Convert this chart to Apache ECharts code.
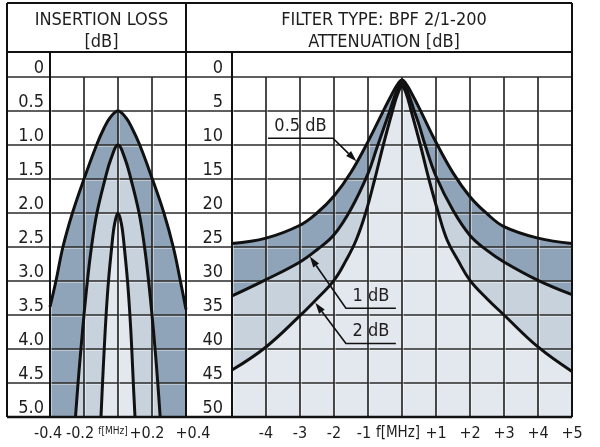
<!DOCTYPE html>
<html>
<head>
<meta charset="utf-8">
<title>BPF 2/1-200</title>
<script src="https://cdn.jsdelivr.net/npm/echarts@6/dist/echarts.min.js"></script>
<style>
  html, body { margin: 0; padding: 0; background: #fff; }
  #chart { width: 600px; height: 447px; }
</style>
</head>
<body>
<div id="chart"></div>
<script>
// ---- data ----
// insertion loss panel: [f MHz, loss dB]
const loss05 = [[-0.4, 3.38], [-0.365, 3.0], [-0.324, 2.5], [-0.268, 2.0], [-0.2, 1.5], [-0.126, 1.0], [-0.082, 0.75],
  [-0.047, 0.6], [0, 0.5], [0.047, 0.6], [0.082, 0.75], [0.128, 1.0], [0.202, 1.5], [0.27, 2.0], [0.325, 2.5],
  [0.367, 3.0], [0.4, 3.42]];
const loss1 = [[-0.25, 5.0], [-0.235, 4.5], [-0.218, 4.0], [-0.2, 3.5], [-0.18, 3.0], [-0.156, 2.5], [-0.124, 2.0],
  [-0.076, 1.5], [-0.041, 1.2], [0, 1.0], [0.041, 1.2], [0.076, 1.5], [0.124, 2.0], [0.156, 2.5], [0.18, 3.0],
  [0.2, 3.5], [0.218, 4.0], [0.234, 4.5], [0.248, 5.0]];
const loss2 = [[-0.1, 5.0], [-0.091, 4.5], [-0.081, 4.0], [-0.07, 3.5], [-0.056, 3.0], [-0.037, 2.5], [-0.026, 2.25],
  [-0.015, 2.1], [0, 2.0], [0.015, 2.1], [0.026, 2.25], [0.037, 2.5], [0.056, 3.0], [0.07, 3.5], [0.081, 4.0],
  [0.09, 4.5], [0.1, 5.0]];

// attenuation panel: [f MHz, attenuation dB]
const att05 = [[-5, 24.5], [-4, 23.7], [-3, 21.8], [-2.5, 20.0], [-2, 17.5], [-1.5, 14.0], [-1, 9.5], [-0.5, 4.5],
  [-0.25, 2.1], [-0.12, 1.0], [0, 0.4], [0.12, 1.0], [0.25, 2.1], [0.5, 4.5], [1, 9.6], [1.5, 14.1], [2, 17.6],
  [2.5, 20.1], [3, 22.0], [4, 23.7], [5, 24.5]];
const att1 = [[-5, 32.2], [-4, 29.8], [-3, 27.2], [-2.5, 25.4], [-2, 23.2], [-1.5, 19.4], [-1, 14.2], [-0.75, 10.6],
  [-0.5, 7.0], [-0.36, 5.0], [-0.2, 2.6], [-0.1, 1.5], [0, 0.9], [0.1, 1.5], [0.2, 2.6], [0.36, 5.0], [0.5, 7.0],
  [0.68, 10.0], [1, 14.6], [1.5, 19.6], [2, 23.3], [2.5, 25.5], [3, 27.2], [4, 29.9], [5, 32.0]];
const att2 = [[-5, 43.1], [-4, 39.7], [-3, 35.1], [-2.5, 32.6], [-2, 29.9], [-1.65, 27.0], [-1.35, 24.0], [-1.07, 20.0],
  [-0.8, 15.0], [-0.55, 10.0], [-0.28, 5.0], [-0.12, 2.4], [0, 1.4], [0.12, 2.4], [0.27, 5.0], [0.54, 10.0],
  [0.79, 15.0], [1.07, 20.0], [1.33, 24.0], [1.65, 27.0], [2, 29.9], [2.5, 32.6], [3, 35.0], [4, 39.7], [5, 43.3]];

// tick labels
const lossXLabels = ['-0.4', '-0.2', 'f[MHz]', '+0.2', '+0.4'];
const lossYLabels = ['0', '0.5', '1.0', '1.5', '2.0', '2.5', '3.0', '3.5', '4.0', '4.5', '5.0'];
const attXLabels = ['', '-4', '-3', '-2', '-1', 'f[MHz]', '+1', '+2', '+3', '+4', '+5'];
const attYLabels = ['0', '5', '10', '15', '20', '25', '30', '35', '40', '45', '50'];

// callouts on the attenuation panel: text, then underline start, underline end, arrow tip
const noteText = ['0.5 dB', '1 dB', '2 dB'];
const notePath = [
  [[-3.94, 9.0], [-2.03, 9.0], [-1.34, 12.4]],
  [[-0.18, 34.0], [-1.65, 34.0], [-2.71, 26.4]],
  [[-0.18, 39.2], [-1.65, 39.2], [-2.55, 33.2]]
];

// ---- look ----
const FONT = "'DejaVu Sans Condensed', 'DejaVu Sans', sans-serif";
const INK = '#1e1e1e';
const RULE = '#2a2a2a';
const DARK = '#8fa4b9', MID = '#c8d2dd', LIGHT = '#e3e8ee';

const frame = { left: 7, right: 572, top: 3, head: 52, plotTop: 77, bottom: 417 };
const lossBox = { left: 50, right: 186 };
const attBox = { left: 232, right: 572 };

// small nudges of the bottom labels, like the hand-set lettering of the original
const lossXStyle = ['l2', 'l4', 's', 'l6', 'r7'];

const chart = echarts.init(document.getElementById('chart'));

function pick(labels, min, step) {
  return v => labels[Math.round((v - min) / step)] || '';
}

function band(data, color, idx) {
  return {
    type: 'line', xAxisIndex: idx, yAxisIndex: idx, data: data,
    smooth: 0.4, symbol: 'none', silent: true, clip: true,
    lineStyle: { width: 0 },
    areaStyle: { color: color, opacity: 1, origin: 'end' },
    z: 2
  };
}
function curve(data, idx) {
  return {
    type: 'line', xAxisIndex: idx, yAxisIndex: idx, data: data,
    smooth: 0.4, symbol: 'none', silent: true, clip: true,
    lineStyle: { color: '#111', width: 3 },
    z: 5
  };
}

// grid rules carry a faint light edge, as in the printed chart
const splitStyle = {
  show: true,
  lineStyle: {
    color: RULE, width: 1.7,
    shadowColor: 'rgba(255,255,255,0.5)', shadowBlur: 0, shadowOffsetX: 1, shadowOffsetY: 1
  }
};
const labelBase = { color: INK, fontFamily: FONT, fontSize: 18 };
const plotH = frame.bottom - frame.plotTop;
const tickText = { fontFamily: FONT, color: INK, fontSize: 16 };

let option = {
  backgroundColor: '#fff',
  animation: false,
  title: [
    {
      text: 'INSERTION LOSS\n[dB]',
      left: (frame.left + lossBox.right) / 2, top: 4, textAlign: 'center',
      textStyle: { color: INK, fontFamily: FONT, fontSize: 18, fontWeight: 'normal', lineHeight: 22 }
    },
    {
      text: 'FILTER TYPE: BPF 2/1-200\nATTENUATION [dB]',
      left: (lossBox.right + frame.right) / 2, top: 4, textAlign: 'center',
      textStyle: { color: INK, fontFamily: FONT, fontSize: 18, fontWeight: 'normal', lineHeight: 22 }
    }
  ],
  grid: [
    { left: lossBox.left, top: frame.plotTop, width: lossBox.right - lossBox.left, height: plotH },
    { left: attBox.left, top: frame.plotTop, width: attBox.right - attBox.left, height: plotH },
    { left: frame.left, top: frame.plotTop, width: frame.right - frame.left, height: plotH }
  ],
  xAxis: [
    {
      gridIndex: 0, type: 'value', min: -0.4, max: 0.4, interval: 0.2, z: 3,
      axisLine: { show: false }, axisTick: { show: false }, splitLine: splitStyle,
      axisLabel: { show: false }
    },
    {
      gridIndex: 1, type: 'value', min: -5, max: 5, interval: 1, z: 3,
      axisLine: { show: false }, axisTick: { show: false }, splitLine: splitStyle,
      axisLabel: Object.assign({}, labelBase, {
        fontSize: 16, margin: 9, showMinLabel: true, showMaxLabel: true,
        formatter: v => {
          const t = pick(attXLabels, -5, 1)(v);
          if (v === 0) return '{f|' + t + '}';
          if (v === -1) return '{m|' + t + '}';
          return t;
        },
        rich: {
          f: Object.assign({}, tickText, { padding: [0, 8, 0, 0], fontSize: 15 }),
          m: Object.assign({}, tickText, { padding: [0, 8, 0, 0] })
        }
      })
    },
    { gridIndex: 2, type: 'value', min: 0, max: 1, show: false },
    {
      // label row under the insertion loss panel
      gridIndex: 0, type: 'category', data: lossXLabels, boundaryGap: false, position: 'bottom', z: 3,
      axisLine: { show: false }, axisTick: { show: false }, splitLine: { show: false },
      axisLabel: Object.assign({}, labelBase, {
        fontSize: 16, margin: 9, interval: 0,
        formatter: (v, i) => '{' + lossXStyle[i] + '|' + v + '}',
        rich: {
          l2: Object.assign({}, tickText, { padding: [0, 4, 0, 0] }),
          l4: Object.assign({}, tickText, { padding: [0, 8, 0, 0] }),
          l6: Object.assign({}, tickText, { padding: [0, 10, 0, 0] }),
          r7: Object.assign({}, tickText, { padding: [0, 0, 0, 14] }),
          s: Object.assign({}, tickText, { padding: [0, 10, 2, 0], fontSize: 10 })
        }
      })
    }
  ],
  yAxis: [
    {
      gridIndex: 0, type: 'value', inverse: true, min: 0, max: 5, interval: 0.5, z: 3,
      axisLine: { show: false }, axisTick: { show: false }, splitLine: { show: false },
      axisLabel: Object.assign({}, labelBase, {
        margin: 6, verticalAlign: 'bottom', showMinLabel: true, showMaxLabel: true,
        formatter: pick(lossYLabels, 0, 0.5)
      })
    },
    {
      gridIndex: 1, type: 'value', inverse: true, min: 0, max: 50, interval: 5, z: 3,
      axisLine: { show: false }, axisTick: { show: false }, splitLine: { show: false },
      axisLabel: Object.assign({}, labelBase, {
        margin: 9, verticalAlign: 'bottom', showMinLabel: true, showMaxLabel: true,
        formatter: pick(attYLabels, 0, 5)
      })
    },
    {
      gridIndex: 2, type: 'value', min: 0, max: 10, interval: 1, z: 3,
      axisLine: { show: false }, axisTick: { show: false }, axisLabel: { show: false },
      splitLine: splitStyle
    }
  ],
  series: [
    band(loss05, DARK, 0), band(loss1, MID, 0), band(loss2, LIGHT, 0),
    band(att05, DARK, 1), band(att1, MID, 1), band(att2, LIGHT, 1),
    curve(loss05, 0), curve(loss1, 0), curve(loss2, 0),
    curve(att05, 1), curve(att1, 1), curve(att2, 1)
  ]
};

chart.setOption(option);

// table frame + callouts, placed from the axes
const graphics = [];
const frameLine = (x1, y1, x2, y2, w) => graphics.push({
  type: 'line', z: 20, silent: true,
  shape: { x1: x1, y1: y1, x2: x2, y2: y2 },
  style: { stroke: '#111', lineWidth: w }
});
frameLine(frame.left, frame.top, frame.right, frame.top, 2);
frameLine(frame.left, frame.bottom, frame.right, frame.bottom, 2.5);
frameLine(frame.left, frame.top, frame.left, frame.bottom, 2);
frameLine(frame.right, frame.top, frame.right, frame.bottom, 2);
frameLine(frame.left, frame.head, frame.right, frame.head, 2);
frameLine(lossBox.right, frame.top, lossBox.right, frame.bottom, 2);
frameLine(lossBox.left, frame.head, lossBox.left, frame.bottom, 2);
frameLine(attBox.left, frame.head, attBox.left, frame.bottom, 2);

notePath.forEach((path, i) => {
  const pts = path.map(p => chart.convertToPixel({ gridIndex: 1 }, p));
  const tip = pts[2], from = pts[1];
  const dx = tip[0] - from[0], dy = tip[1] - from[1];
  const len = Math.sqrt(dx * dx + dy * dy);
  const ux = dx / len, uy = dy / len;
  const hl = 11, hw = 3.5;
  const bx = tip[0] - ux * hl, by = tip[1] - uy * hl;
  graphics.push({
    type: 'polyline', z: 20, silent: true,
    shape: { points: [pts[0], pts[1], [bx, by]] },
    style: { stroke: '#111', lineWidth: 1.6, fill: null }
  });
  graphics.push({
    type: 'polygon', z: 20, silent: true,
    shape: { points: [tip, [bx - uy * hw, by + ux * hw], [bx + uy * hw, by - ux * hw]] },
    style: { fill: '#111' }
  });
  graphics.push({
    type: 'text', z: 20, silent: true,
    x: (pts[0][0] + pts[1][0]) / 2, y: pts[0][1] - 3,
    style: {
      text: noteText[i], fill: INK, font: '18px ' + FONT,
      align: 'center', verticalAlign: 'bottom'
    }
  });
});

chart.setOption({ graphic: graphics });
</script>
</body>
</html>
